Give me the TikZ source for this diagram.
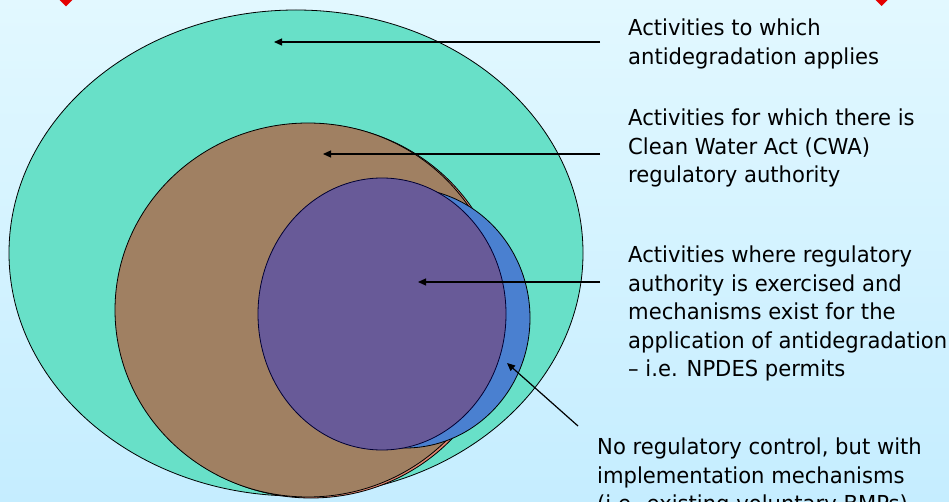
\documentclass[tikz,border=0pt]{standalone}
\usepackage{fontspec}
\setmainfont[FakeStretch=0.96]{DejaVu Sans}
\usetikzlibrary{arrows.meta}

\definecolor{bgtop}{RGB}{226,248,255}
\definecolor{bgbot}{RGB}{197,237,255}
\definecolor{allteal}{RGB}{104,224,200}
\definecolor{cwabrown}{RGB}{160,128,98}
\definecolor{edgesalmon}{RGB}{222,132,110}
\definecolor{bmpblue}{RGB}{74,128,208}
\definecolor{npdespurple}{RGB}{104,90,152}

\begin{document}
\begin{tikzpicture}
[x=1pt,y=-1pt,%
  every node/.style={inner sep=0pt,anchor=north west,align=left,%
    font=\fontsize{22}{28.5}\selectfont},%
  pointer/.style={->,>={Triangle[length=8pt,width=7pt]},line width=1.2pt},%
  region/.style={draw=black,line width=0.8pt}]
\clip (0,0) rectangle (949,502);
\shade[top color=bgtop,bottom color=bgbot] (0,0) rectangle (949,502);
\fill[red!90!black] (66,-6.5) -- (72.5,0) -- (66,6.5) -- (59.5,0) -- cycle;
\fill[red!90!black] (881.5,-6) -- (887.5,0) -- (881.5,6) -- (875.5,0) -- cycle;

\filldraw[region,fill=allteal] (296,253) ellipse [x radius=287,y radius=243];
\filldraw[region,fill=edgesalmon] (311,311) ellipse [x radius=193,y radius=187];
\filldraw[region,fill=cwabrown] (308,310) ellipse [x radius=193,y radius=187];
\filldraw[region,fill=bmpblue] (405,318) ellipse [x radius=125,y radius=130];
\filldraw[region,draw=black!80!blue,fill=npdespurple] (382,314) ellipse [x radius=124,y radius=136];

\node (apply) at (628,19) {Activities to which\\antidegradation applies};
\node (cwa) at (628,109) {Activities for which there is\\Clean Water Act (CWA)\\regulatory authority};
\node (npdes) at (628,246) {Activities where regulatory\\authority is exercised and\\mechanisms exist for the\\application of antidegradation\\– i.e. NPDES permits};
\node (bmp) at (597,438) {No regulatory control, but with\\implementation mechanisms\\(i.e. existing voluntary BMPs)};

\coordinate (applyTail) at (600,42);
\coordinate (applyTip) at (274,42);
\coordinate (cwaTail) at (600,154);
\coordinate (cwaTip) at (323,154);
\coordinate (npdesTail) at (600,282);
\coordinate (npdesTip) at (418,282);
\coordinate (bmpTail) at (578,426);
\coordinate (bmpTip) at (507,363);

\draw[pointer] (applyTail) -- (applyTip);
\draw[pointer] (cwaTail) -- (cwaTip);
\draw[pointer] (npdesTail) -- (npdesTip);
\draw[pointer] (bmpTail) -- (bmpTip);
\end{tikzpicture}
\end{document}
